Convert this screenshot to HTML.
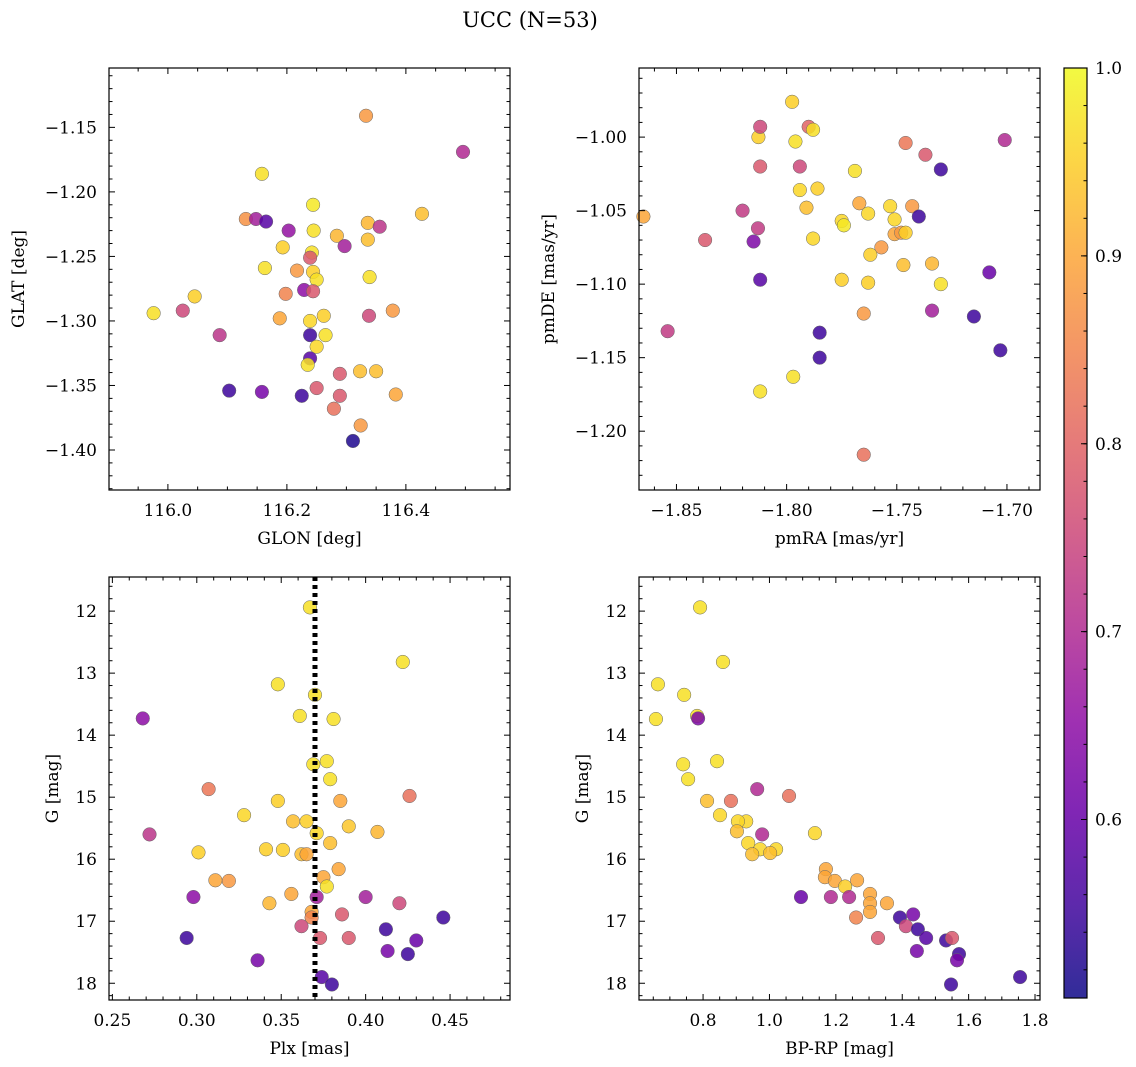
<!DOCTYPE html>
<html><head><meta charset="utf-8"><style>
html,body{margin:0;padding:0;background:#fff;}
svg{display:block;font-family:"DejaVu Serif","Liberation Serif",serif;}
</style></head><body>
<svg id="fig" width="1136" height="1067" viewBox="0 0 1136 1067" xmlns="http://www.w3.org/2000/svg">
<defs>
<linearGradient id="plasma" x1="0" y1="1" x2="0" y2="0">
<stop offset="0" stop-color="#0d0887"/><stop offset="0.1" stop-color="#41049d"/><stop offset="0.2" stop-color="#6a00a8"/><stop offset="0.3" stop-color="#8f0da4"/><stop offset="0.4" stop-color="#b12a90"/><stop offset="0.5" stop-color="#cc4778"/><stop offset="0.6" stop-color="#e16462"/><stop offset="0.7" stop-color="#f2844b"/><stop offset="0.8" stop-color="#fca636"/><stop offset="0.9" stop-color="#fcce25"/><stop offset="1" stop-color="#f0f921"/>
</linearGradient>
</defs>
<text x="530" y="27" font-size="21" text-anchor="middle">UCC (N=53)</text>
</svg>
<script>
// Panel 1: GLON vs GLAT
const glon1=[116.333,116.496,116.158,116.244,116.427,116.131,116.148,116.165,116.336,116.356,116.203,116.245,116.284,116.297,116.336,116.193,116.242,116.239,116.163,116.217,116.244,116.339,116.250,116.198,116.229,116.244,116.045,116.025,115.976,116.188,116.262,116.239,116.378,116.338,116.087,116.239,116.265,116.250,116.239,116.235,116.289,116.323,116.350,116.250,116.103,116.158,116.225,116.289,116.383,116.279,116.324,116.311];
const glat1=[-1.141,-1.169,-1.186,-1.210,-1.217,-1.221,-1.221,-1.223,-1.224,-1.227,-1.230,-1.230,-1.234,-1.242,-1.237,-1.243,-1.247,-1.251,-1.259,-1.261,-1.262,-1.266,-1.268,-1.279,-1.276,-1.277,-1.281,-1.292,-1.294,-1.298,-1.296,-1.300,-1.292,-1.296,-1.311,-1.311,-1.311,-1.320,-1.329,-1.334,-1.341,-1.339,-1.339,-1.352,-1.354,-1.355,-1.358,-1.358,-1.357,-1.368,-1.381,-1.393];
const prob1=[0.88,0.70,0.97,0.98,0.93,0.87,0.68,0.58,0.92,0.72,0.66,0.97,0.92,0.68,0.93,0.95,0.97,0.78,0.97,0.88,0.95,0.97,0.97,0.85,0.65,0.78,0.95,0.75,0.97,0.90,0.95,0.96,0.88,0.75,0.72,0.55,0.97,0.96,0.58,0.97,0.78,0.93,0.93,0.78,0.55,0.62,0.55,0.78,0.90,0.82,0.88,0.52];
// Panel 2: pmRA vs pmDE
const pmra2=[-1.7975,-1.8128,-1.812,-1.790,-1.788,-1.796,-1.746,-1.701,-1.737,-1.812,-1.794,-1.769,-1.730,-1.794,-1.786,-1.865,-1.820,-1.791,-1.767,-1.753,-1.743,-1.740,-1.751,-1.775,-1.774,-1.763,-1.813,-1.815,-1.837,-1.788,-1.751,-1.748,-1.746,-1.757,-1.762,-1.747,-1.734,-1.708,-1.775,-1.812,-1.763,-1.730,-1.765,-1.734,-1.715,-1.854,-1.785,-1.703,-1.785,-1.797,-1.812,-1.765];
const pmde2=[-0.976,-1.000,-0.993,-0.993,-0.995,-1.003,-1.004,-1.002,-1.012,-1.020,-1.020,-1.023,-1.022,-1.036,-1.035,-1.054,-1.050,-1.048,-1.045,-1.047,-1.047,-1.054,-1.056,-1.057,-1.060,-1.052,-1.062,-1.071,-1.070,-1.069,-1.066,-1.065,-1.065,-1.075,-1.080,-1.087,-1.086,-1.092,-1.097,-1.097,-1.099,-1.100,-1.120,-1.118,-1.122,-1.132,-1.133,-1.145,-1.150,-1.163,-1.173,-1.216];
const prob2=[0.95,0.95,0.75,0.80,0.97,0.97,0.83,0.70,0.78,0.78,0.75,0.97,0.55,0.96,0.95,0.90,0.73,0.93,0.90,0.96,0.88,0.55,0.96,0.96,0.98,0.96,0.73,0.63,0.78,0.96,0.90,0.88,0.95,0.88,0.95,0.93,0.92,0.60,0.95,0.58,0.95,0.97,0.88,0.68,0.55,0.73,0.55,0.55,0.55,0.97,0.97,0.82];
// Panel 3: Plx vs G
const plx3=[0.367,0.422,0.348,0.370,0.268,0.361,0.381,0.377,0.369,0.379,0.307,0.426,0.348,0.385,0.328,0.357,0.365,0.390,0.272,0.371,0.407,0.379,0.341,0.351,0.301,0.362,0.365,0.384,0.375,0.311,0.319,0.377,0.371,0.400,0.356,0.298,0.343,0.420,0.368,0.368,0.386,0.362,0.446,0.412,0.373,0.390,0.294,0.430,0.413,0.425,0.336,0.374,0.380];
const g3=[11.94,12.82,13.18,13.35,13.73,13.69,13.74,14.42,14.47,14.71,14.87,14.98,15.06,15.06,15.29,15.39,15.39,15.47,15.60,15.58,15.56,15.74,15.84,15.85,15.89,15.92,15.92,16.16,16.29,16.34,16.35,16.44,16.61,16.61,16.56,16.61,16.71,16.71,16.85,16.94,16.89,17.08,16.94,17.13,17.27,17.27,17.27,17.31,17.48,17.53,17.63,17.90,18.02];
const prob3=[0.97,0.97,0.97,0.97,0.65,0.97,0.97,0.97,0.97,0.97,0.83,0.82,0.95,0.90,0.96,0.93,0.95,0.94,0.72,0.96,0.92,0.93,0.95,0.95,0.95,0.93,0.90,0.90,0.90,0.90,0.88,0.97,0.68,0.68,0.90,0.65,0.92,0.75,0.90,0.85,0.78,0.75,0.55,0.55,0.78,0.78,0.55,0.60,0.62,0.55,0.62,0.58,0.55];
const plxMean=0.370;
// Panel 4: BP-RP vs G
const bprp4=[0.791,0.860,0.664,0.743,0.658,0.782,0.785,0.740,0.842,0.755,0.963,1.059,0.812,0.884,0.851,0.930,0.905,0.902,1.137,0.978,0.936,0.972,1.020,1.002,0.948,1.170,1.167,1.197,1.264,1.228,1.185,1.240,1.303,1.303,1.354,1.303,1.261,1.095,1.393,1.433,1.411,1.447,1.472,1.327,1.532,1.550,1.444,1.571,1.565,1.755,1.547];
const g4=[11.94,12.82,13.18,13.35,13.74,13.69,13.73,14.47,14.42,14.71,14.87,14.98,15.06,15.06,15.29,15.39,15.39,15.55,15.58,15.60,15.74,15.84,15.84,15.90,15.92,16.16,16.29,16.35,16.34,16.44,16.61,16.61,16.56,16.71,16.71,16.85,16.94,16.61,16.94,16.89,17.08,17.13,17.27,17.27,17.31,17.27,17.48,17.53,17.63,17.90,18.02];
const prob4=[0.97,0.97,0.97,0.97,0.97,0.97,0.63,0.97,0.97,0.97,0.70,0.82,0.93,0.82,0.96,0.96,0.96,0.93,0.96,0.70,0.96,0.96,0.96,0.93,0.93,0.90,0.90,0.90,0.90,0.95,0.70,0.70,0.90,0.90,0.90,0.90,0.85,0.60,0.55,0.62,0.75,0.55,0.58,0.78,0.55,0.78,0.62,0.55,0.62,0.55,0.55];
// colorbar
const cbTicks=[0.6,0.7,0.8,0.9,1.0];
const cMin=0.505,cMax=1.0;

const NS="http://www.w3.org/2000/svg";
const svg=document.getElementById('fig');
const stops=[[0,13,8,135],[0.1,65,4,157],[0.2,106,0,168],[0.3,143,13,164],[0.4,177,42,144],[0.5,204,71,120],[0.6,225,100,98],[0.7,242,132,75],[0.8,252,166,54],[0.9,252,206,37],[1,240,249,33]];
function plasma(v){let t=Math.max(0,Math.min(1,(v-cMin)/(cMax-cMin)));for(let i=0;i<stops.length-1;i++){const a=stops[i],b=stops[i+1];if(t<=b[0]){const f=(t-a[0])/(b[0]-a[0]);return `rgb(${Math.round(a[1]+f*(b[1]-a[1]))},${Math.round(a[2]+f*(b[2]-a[2]))},${Math.round(a[3]+f*(b[3]-a[3]))})`;}}return 'rgb(240,249,33)';}
function mk(tag,attrs,parent){const e=document.createElementNS(NS,tag);for(const k in attrs)e.setAttribute(k,attrs[k]);(parent||svg).appendChild(e);return e;}
function fmt(v,d){let s=v.toFixed(d);if(v<0)s='\u2212'+s.slice(1);return s;}

function panel(o){
  const g=mk('g',{});
  
  
  const X=v=>o.x0+(v-o.xmin)/(o.xmax-o.xmin)*(o.x1-o.x0);
  const Y=o.invert?(v=>o.y0+(v-o.ymin)/(o.ymax-o.ymin)*(o.y1-o.y0)):(v=>o.y1-(v-o.ymin)/(o.ymax-o.ymin)*(o.y1-o.y0));
  for(let i=0;i<o.xs.length;i++){
    const c=mk('circle',{cx:X(o.xs[i]),cy:Y(o.ys[i]),r:6.8,fill:plasma(o.ps[i]),'fill-opacity':0.85,stroke:'#666','stroke-width':0.5},g);
    
    
  }
  if(o.vline!==undefined){
    const l=mk('line',{x1:X(o.vline),x2:X(o.vline),y1:o.y0,y2:o.y1,stroke:'#000','stroke-width':5,'stroke-dasharray':'4,4'},g);
    
    
  }
  const f=mk('rect',{x:o.x0,y:o.y0,width:o.x1-o.x0,height:o.y1-o.y0,fill:'none',stroke:'#000','stroke-width':1.2},g);
  
  
  const tk={stroke:'#000','stroke-width':1};
  for(let v=o.xt0-10*o.xstep; v<=o.xmax+1e-9; v+=o.xstep/o.xsub){
    if(v<o.xmin-1e-9)continue;const px=X(v);
    const maj=Math.abs(Math.round((v-o.xt0)/o.xstep)*o.xstep-(v-o.xt0))<1e-7;const L=maj?6:3.5;
    mk('line',Object.assign({x1:px,x2:px,y1:o.y1,y2:o.y1-L},tk),g);
    mk('line',Object.assign({x1:px,x2:px,y1:o.y0,y2:o.y0+L},tk),g);
    if(maj){const t=mk('text',{x:px,y:o.y1+26,'font-size':17,'text-anchor':'middle'},g);t.textContent=fmt(v,o.xd);
      
      }
  }
  for(let v=o.yt0-10*o.ystep; v<=o.ymax+1e-9; v+=o.ystep/o.ysub){
    if(v<o.ymin-1e-9)continue;const py=Y(v);
    const maj=Math.abs(Math.round((v-o.yt0)/o.ystep)*o.ystep-(v-o.yt0))<1e-7;const L=maj?6:3.5;
    mk('line',Object.assign({x1:o.x0,x2:o.x0+L,y1:py,y2:py},tk),g);
    mk('line',Object.assign({x1:o.x1,x2:o.x1-L,y1:py,y2:py},tk),g);
    if(maj){const t=mk('text',{x:o.x0-12,y:py+6,'font-size':17,'text-anchor':'end'},g);t.textContent=fmt(v,o.yd);
      
      }
  }
  const xl=mk('text',{x:(o.x0+o.x1)/2,y:o.y1+54,'font-size':17,'text-anchor':'middle'},g);xl.textContent=o.xlabel;
  
  
  const yx=o.ylx,yy=(o.y0+o.y1)/2;
  const yl=mk('text',{x:yx,y:yy,'font-size':17,'text-anchor':'middle',transform:`rotate(-90 ${yx} ${yy})`},g);yl.textContent=o.ylabel;
  
  
}

panel({name:'glon-glat-panel',x0:109,x1:510,y0:68,y1:490,xmin:115.901,xmax:116.575,ymin:-1.431,ymax:-1.104,xt0:116.0,xstep:0.2,xsub:4,xd:1,yt0:-1.40,ystep:0.05,ysub:5,yd:2,xs:glon1,ys:glat1,ps:prob1,xlabel:'GLON [deg]',ylabel:'GLAT [deg]',ylx:24});
panel({name:'pm-panel',x0:639,x1:1040,y0:68,y1:490,xmin:-1.867,xmax:-1.685,ymin:-1.240,ymax:-0.953,xt0:-1.85,xstep:0.05,xsub:5,xd:2,yt0:-1.20,ystep:0.05,ysub:5,yd:2,xs:pmra2,ys:pmde2,ps:prob2,xlabel:'pmRA [mas/yr]',ylabel:'pmDE [mas/yr]',ylx:554});
panel({name:'plx-g-panel',x0:109,x1:510,y0:577,y1:1000,xmin:0.248,xmax:0.4855,ymin:11.45,ymax:18.27,invert:true,xt0:0.25,xstep:0.05,xsub:5,xd:2,yt0:12,ystep:1,ysub:5,yd:0,xs:plx3,ys:g3,ps:prob3,xlabel:'Plx [mas]',ylabel:'G [mag]',ylx:58,vline:plxMean});
panel({name:'cmd-panel',x0:639,x1:1040,y0:577,y1:1000,xmin:0.607,xmax:1.815,ymin:11.45,ymax:18.27,invert:true,xt0:0.8,xstep:0.2,xsub:4,xd:1,yt0:12,ystep:1,ysub:5,yd:0,xs:bprp4,ys:g4,ps:prob4,xlabel:'BP-RP [mag]',ylabel:'G [mag]',ylx:588});

(function(){
  const cx0=1064,cx1=1087,cy0=68,cy1=998;
  const g=mk('g',{});
  
  
  mk('rect',{x:cx0,y:cy0,width:cx1-cx0,height:cy1-cy0,fill:'url(#plasma)','fill-opacity':0.85},g);
  mk('rect',{x:cx0,y:cy0,width:cx1-cx0,height:cy1-cy0,fill:'none',stroke:'#000','stroke-width':1.2},g);
  const Y=v=>cy1-(v-cMin)/(cMax-cMin)*(cy1-cy0);
  for(let v=0.52;v<=cMax+1e-9;v+=0.02){const py=Y(v);mk('line',{x1:cx1,x2:cx1-3.5,y1:py,y2:py,stroke:'#000','stroke-width':1},g);}
  cbTicks.forEach(v=>{const py=Y(v);mk('line',{x1:cx1,x2:cx1-6,y1:py,y2:py,stroke:'#000','stroke-width':1},g);
    const t=mk('text',{x:cx1+8,y:py+6,'font-size':17},g);t.textContent=v.toFixed(1);
    
    });
})();
</script>
</body></html>
